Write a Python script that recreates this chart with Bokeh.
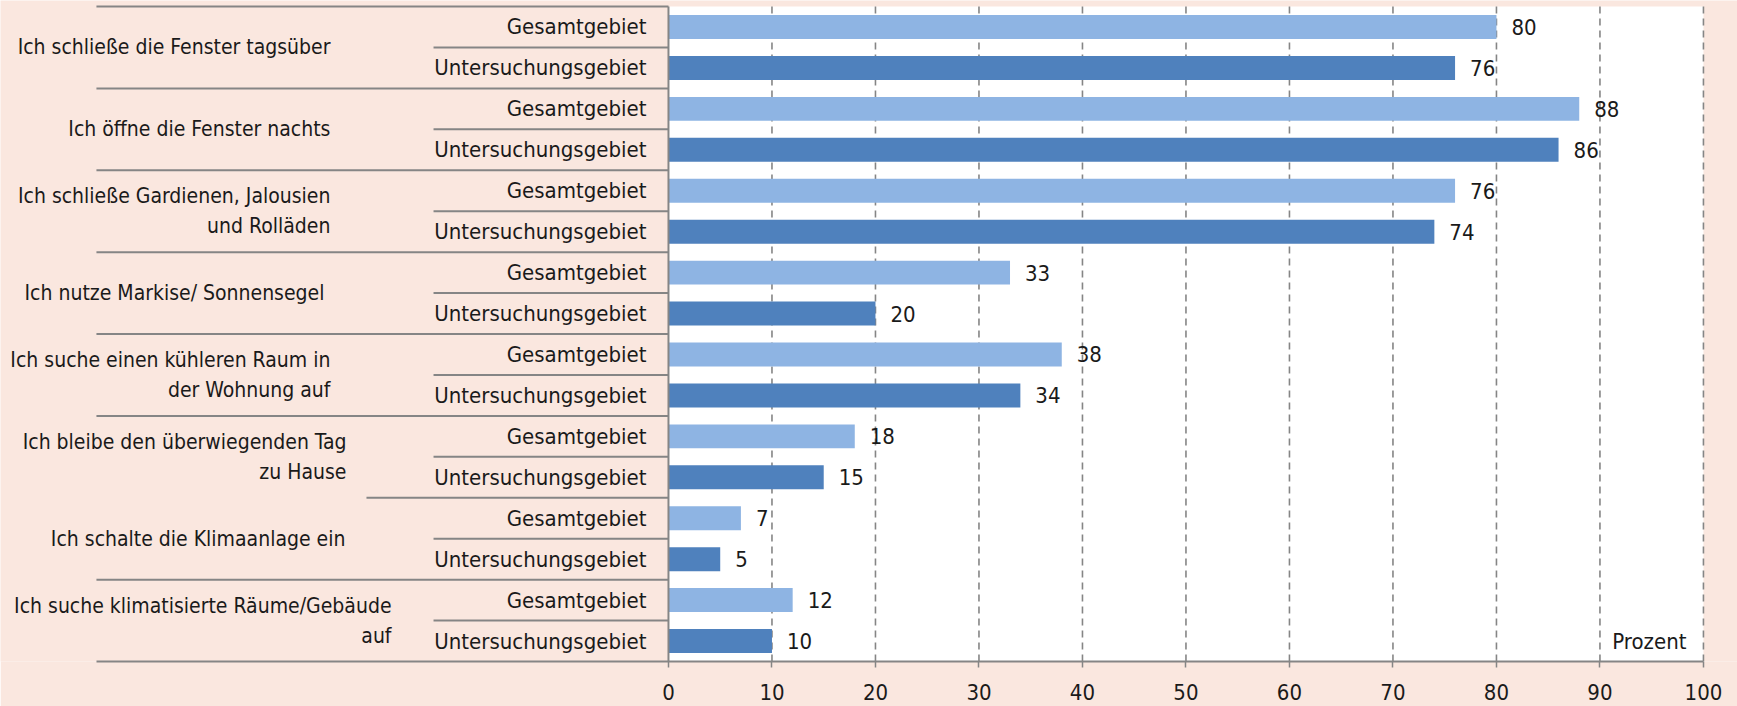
from bokeh.plotting import figure
from bokeh.models import Range1d, FixedTicker
from bokeh.core.properties import value
from bokeh.embed import file_html
from bokeh.resources import INLINE

# ---------------- data ----------------
categories = [
    "Ich schließe die Fenster tagsüber",
    "Ich öffne die Fenster nachts",
    "Ich schließe Gardienen, Jalousien\nund Rolläden",
    "Ich nutze  Markise/ Sonnensegel",
    "Ich suche einen kühleren Raum in\nder Wohnung auf",
    "Ich bleibe den überwiegenden Tag\nzu Hause",
    "Ich schalte die Klimaanlage ein",
    "Ich suche klimatisierte Räume/Gebäude\nauf",
]
sub_labels = ["Gesamtgebiet", "Untersuchungsgebiet"]
gesamt = [80, 88, 76, 33, 38, 18, 7, 12]
unters = [76, 86, 74, 20, 34, 15, 5, 10]
ticks = [0, 10, 20, 30, 40, 50, 60, 70, 80, 90, 100]
unit_label = "Prozent"

# ---------------- layout / style ----------------
cat_right = [-32.66, -32.66, -32.66, -32.66, -32.66, -31.11, -31.21, -26.76]
FONT_NAME = "'DejaVu Sans Condensed', 'Liberation Sans Narrow', sans-serif"
FONT = value(FONT_NAME)
FS = "22px"
FS_CAT = "21px"
PINK = "#FAE7DF"
LIGHT = "#8EB4E3"
DARK = "#4F81BD"
GRAY = "#858585"
TXT = "#1a1a1a"

n = len(categories)
ymax = 2 * n
p = figure(
    frame_width=1737, frame_height=661,
    x_range=Range1d(-64.54, 103.29), y_range=Range1d(ymax, -0.147),
    output_backend="svg", toolbar_location=None,
    min_border_left=0, min_border_right=0, min_border_top=0, min_border_bottom=45,
    background_fill_color=PINK, border_fill_color=PINK, outline_line_color=None,
)
p.grid.visible = False
p.yaxis.visible = False

# white plot area
p.quad(left=[0], right=[ticks[-1]], bottom=[ymax], top=[0], fill_color="white", line_color=None)

# dashed vertical gridlines
grid_x = ticks[1:]
p.segment(x0=grid_x, x1=grid_x, y0=[0] * len(grid_x), y1=[ymax] * len(grid_x),
          line_color=GRAY, line_width=1.6, line_dash="7 5")

# bars
yg = [2 * i + 0.5 for i in range(n)]
yu = [2 * i + 1.5 for i in range(n)]
p.hbar(y=yg, left=0, right=gesamt, height=0.585, fill_color=LIGHT, line_color=None)
p.hbar(y=yu, left=0, right=unters, height=0.585, fill_color=DARK, line_color=None)

# value labels
p.text(x=[v + 1.45 for v in gesamt], y=yg, text=[str(v) for v in gesamt],
       text_align="left", text_baseline="middle", text_font=FONT, text_font_size=FS, text_color=TXT)
p.text(x=[v + 1.45 for v in unters], y=yu, text=[str(v) for v in unters],
       text_align="left", text_baseline="middle", text_font=FONT, text_font_size=FS, text_color=TXT)

# divider lines on the category axis
grp_y = [2 * i for i in range(n)]
grp_x0 = [-55.27] * n
grp_x0[6] = -29.18
p.segment(x0=grp_x0, x1=[0] * n, y0=grp_y, y1=grp_y, line_color=GRAY, line_width=2)
sub_y = [2 * i + 1 for i in range(n)]
p.segment(x0=[-22.7] * n, x1=[0] * n, y0=sub_y, y1=sub_y, line_color=GRAY, line_width=2)
# vertical category axis line
p.segment(x0=[0], x1=[0], y0=[0], y1=[ymax], line_color=GRAY, line_width=2)

# sub labels
p.text(x=[-2.13] * (2 * n), y=yg + yu, text=[sub_labels[0]] * n + [sub_labels[1]] * n,
       text_align="right", text_baseline="middle", text_font=FONT, text_font_size=FS, text_color=TXT)

# category labels
p.text(x=cat_right, y=[2 * i + 1 for i in range(n)], text=categories,
       text_align="right", text_baseline="middle", text_font=FONT, text_font_size=FS_CAT,
       text_color=TXT, text_line_height=1.25)

# unit label
p.text(x=[98.36], y=[ymax - 0.5], text=[unit_label], text_align="right", text_baseline="middle",
       text_font=FONT, text_font_size=FS, text_color=TXT)

# x axis
ax = p.xaxis[0]
ax.ticker = FixedTicker(ticks=ticks)
ax.bounds = (-55.27, ticks[-1])
ax.axis_line_color = GRAY
ax.axis_line_width = 2
ax.major_tick_line_color = GRAY
ax.major_tick_line_width = 1.5
ax.major_tick_out = 6
ax.major_tick_in = 0
ax.minor_tick_line_color = None
ax.major_label_text_font = FONT_NAME
ax.major_label_text_font_size = FS
ax.major_label_text_color = TXT
ax.major_label_standoff = 16

open("out.html", "w").write(file_html(p, INLINE))
